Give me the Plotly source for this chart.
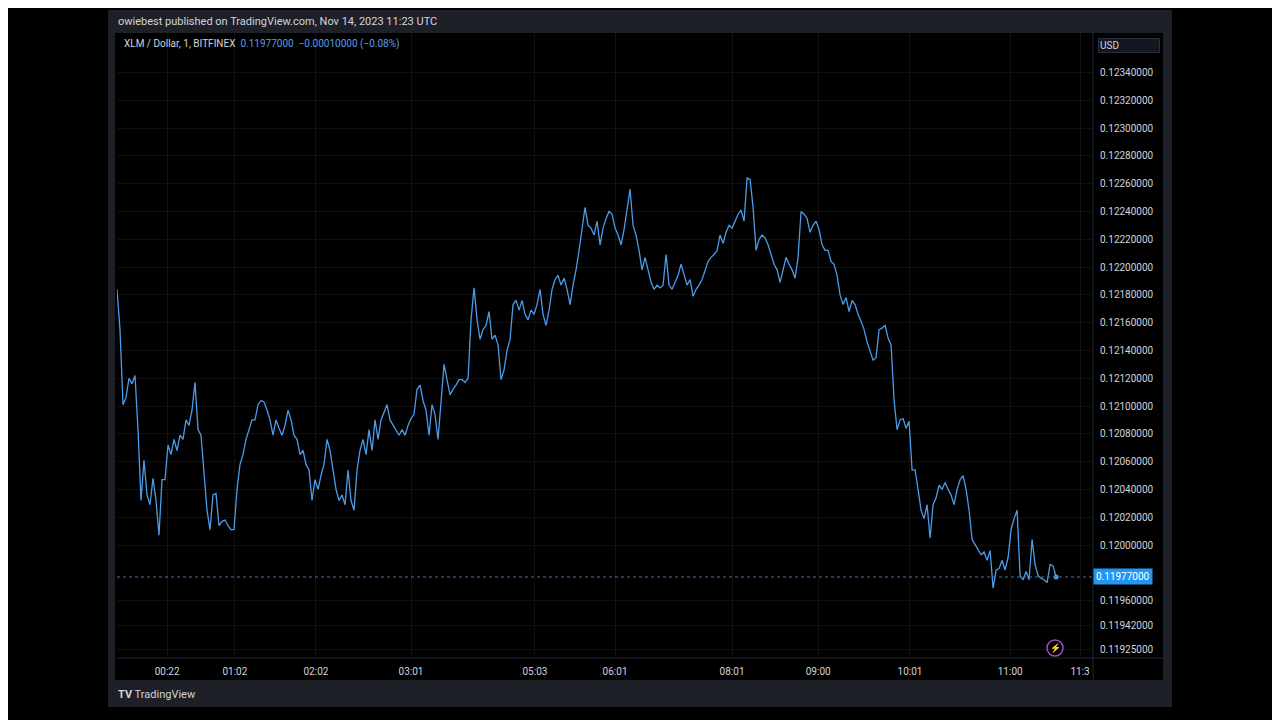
import plotly.graph_objects as go

# XLM / USD 1-minute closes (units of 1e-5 USD)
closes = [
    12184, 12155, 12101, 12106, 12120, 12116, 12122, 12083, 12032, 12061, 12036, 12029, 12048, 12032, 12007, 12047,
    12047, 12072, 12065, 12076, 12068, 12079, 12076, 12090, 12086, 12097, 12117, 12083, 12079, 12054, 12025, 12011,
    12036, 12037, 12014, 12017, 12018, 12014, 12011, 12011, 12040, 12058, 12065, 12076, 12083, 12090, 12090, 12101,
    12104, 12103, 12097, 12090, 12079, 12090, 12084, 12079, 12086, 12097, 12090, 12079, 12076, 12065, 12068, 12058,
    12054, 12032, 12047, 12040, 12050, 12058, 12076, 12068, 12054, 12040, 12032, 12036, 12029, 12054, 12032, 12025,
    12054, 12068, 12076, 12065, 12083, 12068, 12090, 12076, 12090, 12096, 12101, 12090, 12086, 12083, 12079, 12083,
    12079, 12086, 12091, 12094, 12112, 12115, 12104, 12097, 12079, 12101, 12094, 12076, 12104, 12130, 12119, 12108,
    12112, 12115, 12119, 12119, 12117, 12120, 12162, 12185, 12162, 12148, 12155, 12158, 12168, 12148, 12151, 12144,
    12119, 12126, 12140, 12148, 12173, 12176, 12169, 12176, 12166, 12162, 12169, 12166, 12173, 12184, 12166, 12158,
    12169, 12184, 12191, 12194, 12187, 12192, 12184, 12173, 12187, 12198, 12212, 12227, 12243, 12230, 12228, 12223,
    12233, 12216, 12228, 12235, 12240, 12238, 12228, 12223, 12216, 12227, 12241, 12256, 12230, 12223, 12212, 12198,
    12207, 12198, 12189, 12184, 12187, 12185, 12187, 12209, 12187, 12184, 12189, 12194, 12202, 12194, 12187, 12191,
    12179, 12184, 12187, 12191, 12198, 12204, 12207, 12209, 12212, 12223, 12217, 12225, 12230, 12228, 12233, 12238,
    12241, 12233, 12264, 12263, 12243, 12212, 12220, 12223, 12221, 12216, 12209, 12202, 12198, 12189, 12198, 12207,
    12202, 12198, 12192, 12207, 12240, 12238, 12235, 12225, 12230, 12233, 12227, 12216, 12212, 12212, 12204, 12202,
    12194, 12180, 12173, 12178, 12168, 12176, 12173, 12166, 12161, 12155, 12146, 12139, 12133, 12135, 12155, 12156,
    12158, 12149, 12144, 12104, 12083, 12090, 12091, 12084, 12089, 12054, 12054, 12040, 12025, 12019, 12029, 12005,
    12029, 12034, 12043, 12040, 12045, 12040, 12036, 12029, 12040, 12047, 12050, 12040, 12025, 12004, 12000, 11996,
    11993, 11995, 11989, 11996, 11969, 11982, 11983, 11989, 11982, 11991, 12011, 12019, 12025, 11978, 11975, 11981,
    11975, 12004, 11986, 11978, 11976, 11975, 11973, 11986, 11985, 11977,
]
prices = [c / 100000 for c in closes]
bars = list(range(len(prices)))

time_ticks = [16.7, 39.3, 66.3, 98, 139.3, 166, 205, 233.7, 264.3, 297.7, 321]
time_labels = ["00:22", "01:02", "02:02", "03:01", "05:03", "06:01", "08:01", "09:00", "10:01", "11:00", "11:3"]

price_ticks = [0.1234, 0.1232, 0.1230, 0.1228, 0.1226, 0.1224, 0.1222, 0.1220, 0.1218, 0.1216, 0.1214,
               0.1212, 0.1210, 0.1208, 0.1206, 0.1204, 0.1202, 0.1200, 0.1196, 0.11942, 0.11925]
last = 0.11977

# helpers: screen pixel -> paper coords of the plot area (117..1093 x 33..658)
def px(x):
    return (x - 117) / 976.0
def py(y):
    return (658 - y) / 625.0

line_col = "#4c9be8"
fig = go.Figure()
fig.add_trace(go.Scatter(x=bars, y=prices, mode="lines", line=dict(color=line_col, width=1.3), hoverinfo="skip"))
fig.add_trace(go.Scatter(x=[bars[-1]], y=[prices[-1]], mode="markers", marker=dict(color=line_col, size=5), hoverinfo="skip"))

shapes = [
    dict(type="rect", xref="paper", yref="paper", x0=px(108), x1=px(1172), y0=py(707), y1=py(10),
         fillcolor="#1e2028", line=dict(width=0), layer="below"),
    dict(type="rect", xref="paper", yref="paper", x0=px(115), x1=px(1163), y0=py(680), y1=py(33),
         fillcolor="#000000", line=dict(width=0), layer="below"),
    dict(type="line", xref="paper", yref="paper", x0=1, x1=1, y0=py(680), y1=py(33), line=dict(color="#22252e", width=1)),
    dict(type="line", xref="paper", yref="paper", x0=0, x1=px(1163), y0=0, y1=0, line=dict(color="#22252e", width=1)),
    dict(type="line", xref="paper", yref="y", x0=0, x1=1, y0=last, y1=last, line=dict(color="#3f78b8", width=1, dash="dot")),
    # purple badge circle
    dict(type="circle", xref="paper", yref="paper", x0=px(1047), x1=px(1063), y0=py(656), y1=py(640),
         line=dict(color="#9c4fc4", width=1.5), fillcolor="rgba(0,0,0,0)"),
]

annotations = [
    dict(text="owiebest published on TradingView.com, Nov 14, 2023 11:23 UTC", xref="paper", yref="paper",
         x=px(116), y=py(22), xanchor="left", yanchor="middle", showarrow=False, font=dict(color="#d1d4dc", size=11)),
    dict(text="XLM / Dollar, 1, BITFINEX  <span style='color:#5b9ce6'>0.11977000  −0.00010000 (−0.08%)</span>",
         xref="paper", yref="paper", x=px(122), y=py(44), xanchor="left", yanchor="middle", showarrow=False,
         font=dict(color="#d1d4dc", size=10)),
    dict(text="USD", xref="paper", yref="paper", x=px(1098), y=py(45), xanchor="left", yanchor="middle",
         showarrow=False, font=dict(color="#d1d4dc", size=10), bgcolor="#131722", bordercolor="#2a2e39",
         borderwidth=1, width=58, align="left"),
    dict(text="0.11977000", xref="paper", yref="y", x=px(1093), y=last, xanchor="left", yanchor="middle",
         showarrow=False, font=dict(color="#ffffff", size=10), bgcolor="#2196f3", borderpad=2),
    dict(text="⚡", xref="paper", yref="paper", x=px(1055), y=py(648), xanchor="center", yanchor="middle",
         showarrow=False, font=dict(color="#b069d6", size=9)),
    dict(text="<b>TV</b> TradingView", xref="paper", yref="paper", x=px(116), y=py(694), xanchor="left",
         yanchor="middle", showarrow=False, font=dict(color="#d1d4dc", size=11)),
]

fig.update_layout(
    width=1280, height=720,
    # page body adds 8px, so margins are shifted by 8
    margin=dict(l=109, r=195, t=25, b=70),
    paper_bgcolor="#000000", plot_bgcolor="#000000",
    showlegend=False,
    font=dict(family="Roboto, Arial, sans-serif"),
    shapes=shapes, annotations=annotations,
    xaxis=dict(range=[0, 325.3], tickvals=time_ticks, ticktext=time_labels, showgrid=True,
               gridcolor="#101013", zeroline=False, tickfont=dict(color="#d1d4dc", size=10),
               ticks="", showline=False, fixedrange=True, ticklabelstandoff=6),
    yaxis=dict(side="right", range=[0.119187, 0.123684], tickvals=price_ticks,
               ticktext=[f"{v:.8f}" for v in price_ticks], showgrid=True, gridcolor="#101013",
               zeroline=False, tickfont=dict(color="#d1d4dc", size=10), ticks="", ticklabelstandoff=6),
)

fig.write_html("out.html")
